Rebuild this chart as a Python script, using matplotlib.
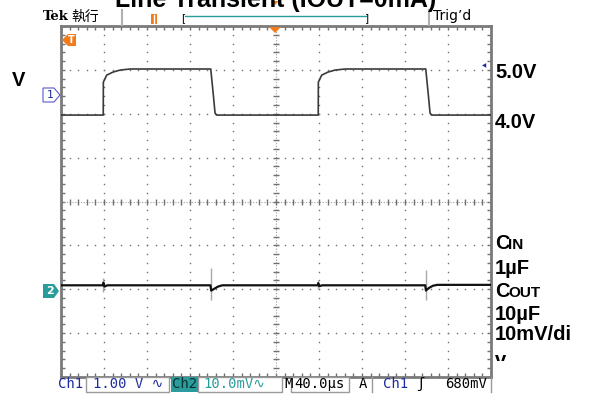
import matplotlib
matplotlib.use("Agg")
import matplotlib.pyplot as plt
import numpy as np
from matplotlib.patches import Polygon, Rectangle
from matplotlib.transforms import Bbox

W, H = 592, 400

# scope settings
TIME_PER_DIV = 40.0      # us/div
CH1_V_PER_DIV = 1.0
CH1_OFFSET_V = 2.0       # volts at centre line
CH2_MV_PER_DIV = 10.0
CH2_POS_DIV = -1.91      # ch2 ground position (div)

# Ch1: line step 4 V -> 5 V (time in us, volts)
ch1_t = [-200, -160.7, -160.6, -157.5, -151.6, -145.1, -135.8, -60.7, -58.3, -56.7, -55.3,
         39.3, 39.4, 42.5, 48.4, 54.9, 64.2, 139.3, 141.7, 143.3, 144.7, 200]
ch1_v = [3.97, 3.97, 4.72, 4.88, 4.95, 4.995, 5.02, 5.02, 4.43, 4.015, 3.97,
         3.97, 4.72, 4.88, 4.95, 4.995, 5.02, 5.02, 4.43, 4.015, 3.97, 3.97]

# Ch2: output ripple (time in us, mV)
ch2_t = [-200, -161.0, -160.5, -159.5, -157, -61.0, -60.3, -59.5, -57.5, -54, -50,
         38.8, 39.3, 40.3, 43, 138.8, 139.5, 140.3, 142.3, 146, 150, 200]
ch2_mv = [0, 0, 0.6, -0.3, 0, 0, -1.2, -1.1, -0.8, -0.3, 0,
          0, 0.5, -0.2, 0, 0, -1.2, -1.0, -0.6, -0.1, 0.1, 0.1]

# fast switching spikes on ch2 (drawn dim)
spike_t = [-160.8, -60.6, 39.2, 139.1]
spike_hi = [1.6, 3.9, 1.2, 3.6]
spike_lo = [-1.6, -3.4, -0.9, -3.4]

right_labels = ["5.0V", "4.0V", "1\u00b5F", "10\u00b5F", "10mV/di"]
right_label_y = [72, 122, 268, 315, 335]

BLUE = "#1c2ca0"
TEAL = "#2a9c9c"
ORANGE = "#f07c1c"
GRID = "#707070"


def px(x, y):
    return (x / W, 1 - y / H)


fig = plt.figure(figsize=(W / 100, H / 100), dpi=100)
fig.patch.set_facecolor("white")
ax = fig.add_axes([61 / W, 1 - 377 / H, 430 / W, 351 / H])
ax.set_xlim(-5 * TIME_PER_DIV, 5 * TIME_PER_DIV)
ax.set_ylim(-4, 4)

# graticule dots
sub_x = np.arange(-5 * TIME_PER_DIV, 5 * TIME_PER_DIV + 1, TIME_PER_DIV / 5)
sub_y = np.arange(-4, 4.01, 0.2)
for k in range(-4, 5):
    if k == 0:
        continue
    ax.plot(np.full_like(sub_y, k * TIME_PER_DIV), sub_y, ls="none", marker="s",
            ms=1.0, color=GRID, mew=0)
for k in range(-3, 4):
    if k == 0:
        continue
    ax.plot(sub_x, np.full_like(sub_x, k), ls="none", marker="s", ms=1.0, color=GRID, mew=0)
# centre cross with ticks
ax.axhline(0, color="#a0a0a0", lw=0.8, ls=(0, (1, 1.5)))
ax.axvline(0, color="#a0a0a0", lw=0.8, ls=(0, (1, 1.5)))
ax.plot(sub_x, np.zeros_like(sub_x), ls="none", marker="|", ms=4, color=GRID, mew=1)
ax.plot(np.zeros_like(sub_y), sub_y, ls="none", marker="_", ms=4, color=GRID, mew=1)

# traces
ch1_div = (np.array(ch1_v) - CH1_OFFSET_V) / CH1_V_PER_DIV
ax.plot(ch1_t, ch1_div, color="#3a3a3a", lw=1.2, zorder=5)
ax.vlines(spike_t, CH2_POS_DIV + np.array(spike_lo) / CH2_MV_PER_DIV,
          CH2_POS_DIV + np.array(spike_hi) / CH2_MV_PER_DIV, color="#a8a8a8", lw=1.0, zorder=4)
ch2_div = CH2_POS_DIV + np.array(ch2_mv) / CH2_MV_PER_DIV
ax.plot(ch2_t, ch2_div, color="#111111", lw=1.6, zorder=5)

# frame
ax.set_xticks(np.arange(-5, 6) * TIME_PER_DIV)
ax.set_yticks(np.arange(-4, 5))
ax.set_xticks(sub_x, minor=True)
ax.set_yticks(sub_y, minor=True)
ax.tick_params(which="both", direction="in", length=3, width=1, color=GRID,
               top=True, right=True, labelbottom=False, labelleft=False)
for s in ax.spines.values():
    s.set_color("#7a7a7a")
    s.set_linewidth(2)

# title (cut off at the top of the screenshot)
fig.text(276 / W, 1 - 6.5 / H, "Line Transient (IOUT=0mA)", ha="center", va="baseline",
         fontsize=18, fontweight="bold", family="Liberation Sans")

# top status bar
fig.text(*px(43, 17), "Tek", fontsize=9.5, fontweight="bold", va="center", family="DejaVu Serif")
fig.text(*px(71, 17), "執行", fontsize=10, va="center", family=["Noto Sans CJK TC", "DejaVu Sans"])
for xs in (122, 429):
    fig.add_artist(plt.Line2D([xs / W, xs / W], [1 - 10 / H, 1 - 25 / H], color="#b0b0b0", lw=1.5))
fig.add_artist(Rectangle(px(151, 24), 6 / W, 10 / H, facecolor=ORANGE, edgecolor="none"))
fig.add_artist(plt.Line2D([154 / W, 154 / W], [1 - 15 / H, 1 - 23 / H], color="white", lw=1))
fig.text(*px(183, 18), "[", fontsize=7.5, va="center", ha="center")
fig.text(*px(367, 18), "]", fontsize=7.5, va="center", ha="center")
fig.add_artist(plt.Line2D([185 / W, 366 / W], [1 - 16 / H, 1 - 16 / H], color=TEAL, lw=1))
fig.add_artist(Polygon([px(271, 1), px(279, 1), px(275, 5)], closed=True, facecolor=ORANGE,
                       edgecolor="none"))
fig.text(*px(433, 16), "Trig\u2019d", fontsize=10, va="center")

# trigger position marker on graticule
fig.add_artist(Polygon([px(269, 27), px(281, 27), px(275, 33)], closed=True, facecolor=ORANGE,
                       edgecolor="none", zorder=10))

# channel markers
fig.add_artist(Polygon([px(62, 40), px(68, 34), px(76, 34), px(76, 46), px(68, 46)],
                       closed=True, facecolor=ORANGE, edgecolor="none", zorder=10))
fig.text(*px(71, 40), "T", fontsize=7, fontweight="bold", color="white", ha="center", va="center", zorder=11)
fig.add_artist(Polygon([px(43, 88), px(54, 88), px(60, 95), px(54, 102), px(43, 102)],
                       closed=True, facecolor="white", edgecolor="#5a5ad0", lw=0.8))
fig.text(*px(50, 95), "1", fontsize=8, color=BLUE, ha="center", va="center")
fig.add_artist(Polygon([px(43, 284), px(54, 284), px(59, 291), px(54, 298), px(43, 298)],
                       closed=True, facecolor=TEAL, edgecolor="none"))
fig.text(*px(50, 291), "2", fontsize=8, color="white", fontweight="bold", ha="center", va="center")
fig.text(*px(484, 66), "\u25c0", fontsize=4, color=BLUE, ha="center", va="center")

# right side annotations
lab = dict(fontsize=14.5, fontweight="bold", family="Liberation Sans", va="center")
small = dict(fontsize=11, fontweight="bold", family="Liberation Sans", va="baseline")
for txt, yy in zip(right_labels, right_label_y):
    fig.text(*px(495, yy), txt, **lab)
fig.text(*px(495, 249), "C", **dict(lab, va="baseline"))
fig.text(*px(508, 249), "IN", **small)
fig.text(*px(495, 297), "C", **dict(lab, va="baseline"))
fig.text(*px(508, 297), "OUT", **small)
tv = fig.text(*px(495, 366), "v", **dict(lab, va="baseline"))
tv.set_clip_box(Bbox([[480, H - 361], [W, H]]))
tv.set_clip_on(True)
fig.text(*px(12, 80), "V", **lab)

# bottom status bar
mono = dict(family=["DejaVu Sans Mono", "DejaVu Sans", "Noto Sans", "Noto Sans CJK JP"],
            fontsize=10, va="center")
fig.text(*px(58, 384), "Ch1", color=BLUE, **mono)
for x0, x1 in ((86, 169), (198, 282), (291, 349)):
    fig.add_artist(Rectangle(px(x0, 392), (x1 - x0) / W, 15 / H, facecolor="white",
                             edgecolor="#9a9a9a", lw=1))
fig.add_artist(Rectangle(px(171, 392), 27 / W, 15 / H, facecolor=TEAL, edgecolor="none"))
fig.text(*px(184.5, 384), "Ch2", color="#0c3030", ha="center", **mono)
fig.text(*px(93, 384), "1.00 V \u223f", color=BLUE, **mono)
fig.text(*px(203, 384), "10.0mV\u223f", color=TEAL, **mono)
fig.text(*px(284, 384), "M", color="black", **mono)
fig.text(*px(294, 384), "40.0\u00b5s", color="black", **mono)
fig.text(*px(359, 384), "A", color="black", **mono)
fig.add_artist(plt.Line2D([372 / W, 372 / W], [1 - 377 / H, 1 - 392 / H], color="#9a9a9a", lw=1))
fig.text(*px(383, 384), "Ch1", color=BLUE, **mono)
fig.text(*px(420, 384), "\u0283", color="black", ha="center", **mono)
fig.text(*px(445, 384), "680mV", color="black", **mono)
fig.add_artist(plt.Line2D([491 / W, 491 / W], [1 - 377 / H, 1 - 392 / H], color="#9a9a9a", lw=1))

fig.savefig("out.png", dpi=100)
